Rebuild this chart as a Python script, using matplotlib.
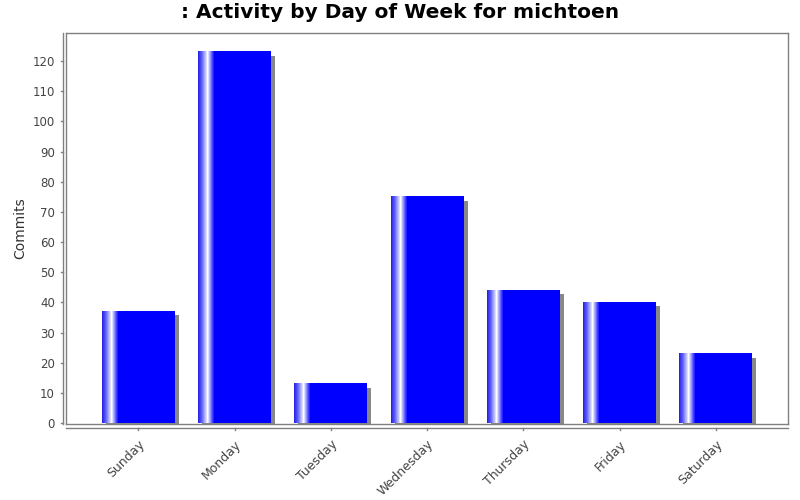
import numpy as np
import matplotlib
matplotlib.use('Agg')
import matplotlib.pyplot as plt
from matplotlib.patches import Rectangle
from matplotlib.lines import Line2D
from matplotlib.colors import LinearSegmentedColormap

days = ['Sunday', 'Monday', 'Tuesday', 'Wednesday', 'Thursday', 'Friday', 'Saturday']
commits = [37, 123, 13, 75, 44, 40, 23]
yticks = list(range(0, 130, 10))

W, H = 800, 500
fig = plt.figure(figsize=(8, 5), dpi=100)
# plot area in pixels: x 66..788, y 33..424
left, right, top, bottom = 66, 788, 33, 424
ax = fig.add_axes([left / W, 1 - bottom / H, (right - left) / W, (bottom - top) / H])

xmin, xmax = -0.753, 6.75
ymin, ymax = -0.3, 129.3
barw = 0.758
gray = '#808080'

# horizontal gradient: blue -> white -> blue
grad = LinearSegmentedColormap.from_list('g', [(0, '#2020e0'), (0.05, '#6060ff'),
                                               (0.13, '#ffffff'), (0.22, '#0000ff'), (1, '#0000ff')])
gx = np.linspace(0, 1, 300).reshape(1, -1)

px_x = (xmax - xmin) / (right - left)
px_y = (ymax - ymin) / (bottom - top)

for i, v in enumerate(commits):
    x0 = i - barw / 2
    # shadow
    ax.add_patch(Rectangle((x0 + 4 * px_x, ymin), barw, v - 4 * px_y - ymin,
                           facecolor='#888888', edgecolor='none', zorder=1))
    ax.imshow(gx, cmap=grad, aspect='auto', extent=[x0, x0 + barw, 0, v],
              interpolation='nearest', zorder=2)

ax.set_xlim(xmin, xmax)
ax.set_ylim(ymin, ymax)
for s in ax.spines.values():
    s.set_color(gray)
    s.set_linewidth(1)

ax.set_xticks(range(len(days)))
ax.set_xticklabels(days, rotation=45, ha='right', rotation_mode='anchor',
                   fontsize=9, color='#444444')
ax.set_yticks(yticks)
ax.set_yticklabels([str(t) for t in yticks], fontsize=8.5, color='#444444')
ax.tick_params(axis='y', length=2, color=gray, pad=6, left=False)
ax.tick_params(axis='x', length=2, color=gray, pad=8, bottom=False)

# offset axis lines like the original
fig.add_artist(Line2D([62.5 / W, 62.5 / W], [1 - 33 / H, 1 - 424 / H], color=gray, lw=1))
fig.add_artist(Line2D([66 / W, 788 / W], [1 - 427.5 / H, 1 - 427.5 / H], color=gray, lw=1))
for t in yticks:
    yp = 1 - (bottom - (t - ymin) / px_y) / H
    fig.add_artist(Line2D([60.5 / W, 62.5 / W], [yp, yp], color=gray, lw=1))
for i in range(len(days)):
    xp = (left + (i - xmin) / px_x) / W
    fig.add_artist(Line2D([xp, xp], [1 - 427.5 / H, 1 - 430 / H], color=gray, lw=1))

ax.set_ylabel('Commits', fontsize=10, color='#333333', labelpad=4)
fig.text(0.5, 1 - 13 / H, ': Activity by Day of Week for michtoen', ha='center', va='center',
         fontsize=14.5, fontweight='bold', color='black')

fig.savefig('out.png', dpi=100)
